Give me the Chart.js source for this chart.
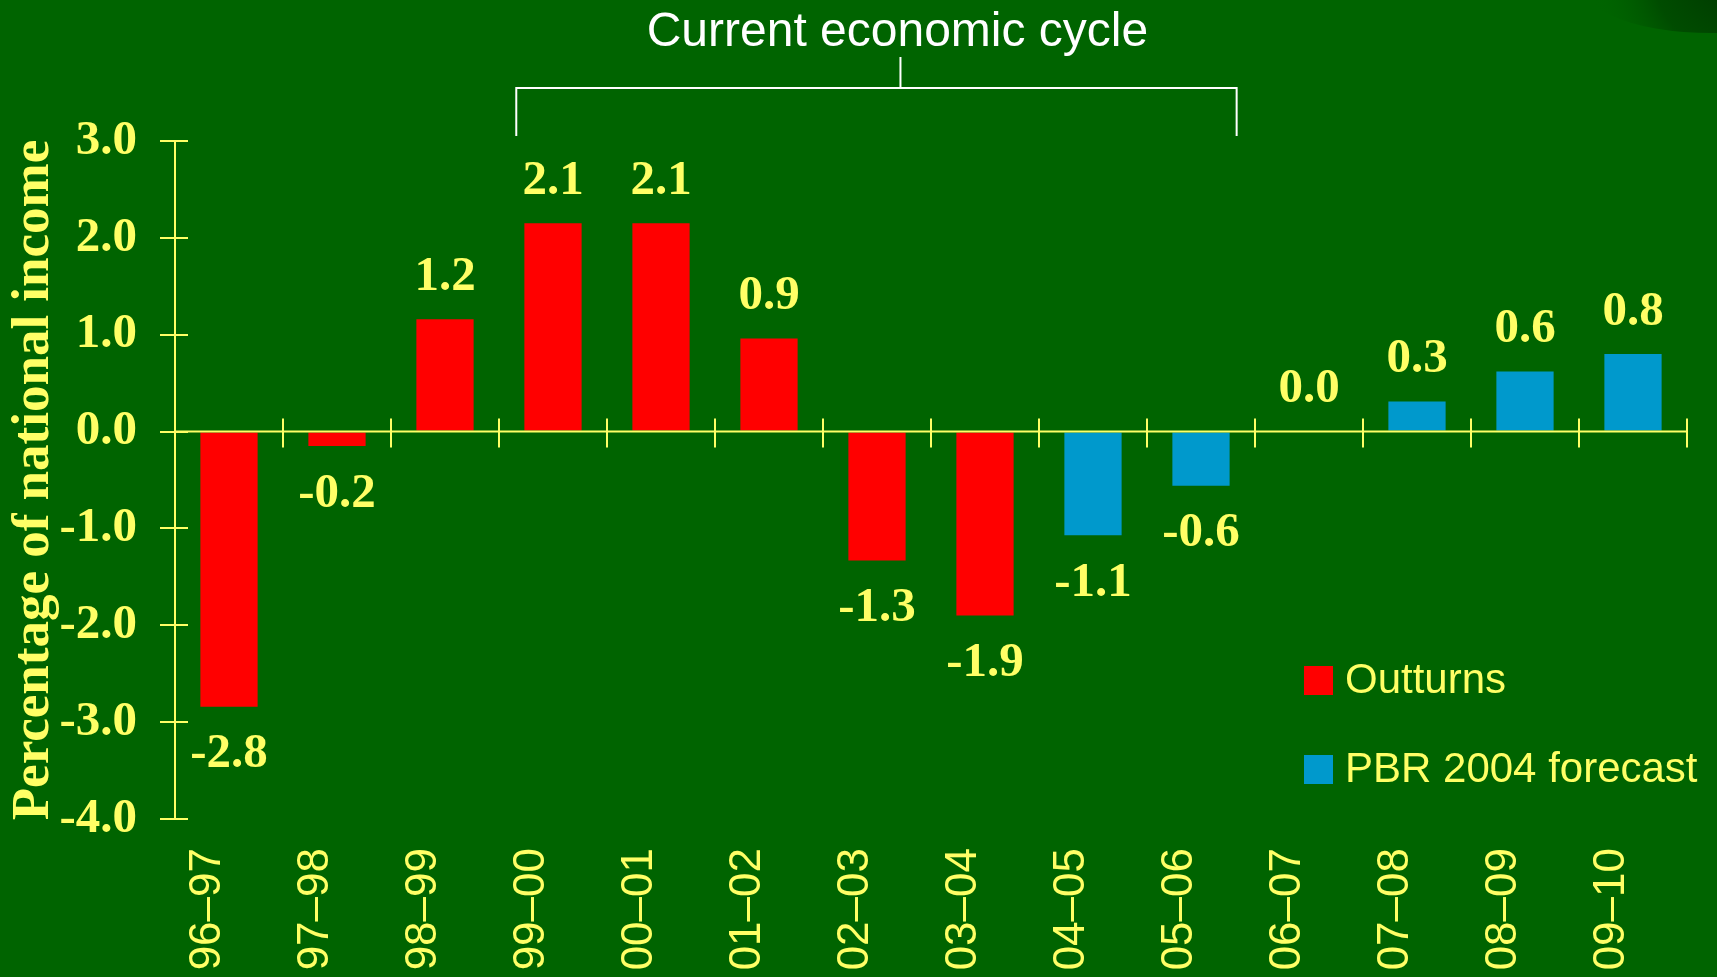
<!DOCTYPE html>
<html>
<head>
<meta charset="utf-8">
<script src="https://cdn.jsdelivr.net/npm/chart.js@4/dist/chart.umd.min.js"></script>
<style>
  html, body { margin: 0; padding: 0; overflow: hidden; background: #006400; }
  canvas { display: block; }
</style>
</head>
<body>
<canvas id="cycleChart" width="1717" height="977"></canvas>
<script>
// chart values
const categories = ['96–97', '97–98', '98–99', '99–00', '00–01', '01–02', '02–03',
  '03–04', '04–05', '05–06', '06–07', '07–08', '08–09', '09–10'];
const outturns = [-2.84, -0.15, 1.16, 2.15, 2.15, 0.96, -1.33, -1.9,
  null, null, null, null, null, null];
const forecast = [null, null, null, null, null, null, null, null,
  -1.07, -0.56, 0, 0.31, 0.62, 0.8];
const valueLabels = ['-2.8', '-0.2', '1.2', '2.1', '2.1', '0.9', '-1.3', '-1.9',
  '-1.1', '-0.6', '0.0', '0.3', '0.6', '0.8'];
const yTicks = [-4, -3, -2, -1, 0, 1, 2, 3];
const cycleFrom = '99–00';
const cycleTo = '05–06';
const cycleTitle = 'Current economic cycle';

const YELLOW = '#FFFF66';
const RED = '#FF0000';
const BLUE = '#0099CC';

const backgroundPlugin = {
  id: 'background',
  beforeDraw(chart) {
    const ctx = chart.ctx;
    ctx.save();
    ctx.fillStyle = '#006400';
    ctx.fillRect(0, 0, chart.width, chart.height);
    // dark smudge in the top right corner
    const g = ctx.createRadialGradient(1740, -30, 10, 1740, -30, 150);
    g.addColorStop(0, 'rgba(0,50,0,0.9)');
    g.addColorStop(0.55, 'rgba(0,60,0,0.6)');
    g.addColorStop(1, 'rgba(0,100,0,0)');
    ctx.fillStyle = g;
    ctx.beginPath();
    ctx.ellipse(1740, -30, 160, 62, -0.08, 0, Math.PI * 2);
    ctx.fill();
    ctx.restore();
  }
};

const axesPlugin = {
  id: 'axesExtra',
  afterDatasetsDraw(chart) {
    const { ctx, chartArea, scales: { x, y } } = chart;
    const y0 = y.getPixelForValue(0);
    ctx.save();
    ctx.strokeStyle = YELLOW;
    ctx.lineWidth = 2;
    ctx.beginPath();
    ctx.moveTo(chartArea.left, y0);
    ctx.lineTo(chartArea.right, y0);
    for (let i = 1; i <= categories.length; i++) {
      const px = Math.round(x.getPixelForValue(i - 0.5));
      ctx.moveTo(px, y0 - 13);
      ctx.lineTo(px, y0 + 16);
    }
    yTicks.forEach(v => {
      const py = Math.round(y.getPixelForValue(v));
      ctx.moveTo(chartArea.left, py);
      ctx.lineTo(chartArea.left + 13, py);
    });
    ctx.stroke();

    // value labels
    ctx.fillStyle = YELLOW;
    ctx.font = 'bold 49px "Liberation Serif", "Times New Roman", serif';
    ctx.textAlign = 'center';
    ctx.textBaseline = 'middle';
    chart.data.datasets.forEach((ds, di) => {
      const meta = chart.getDatasetMeta(di);
      meta.data.forEach((el, i) => {
        const v = ds.data[i];
        if (v === null || v === undefined) return;
        const ty = v >= 0 ? el.y - 42 : el.y + 48;
        ctx.fillText(valueLabels[i], el.x, ty);
      });
    });
    ctx.restore();
  },
  afterDraw(chart) {
    const { ctx, chartArea, scales: { x } } = chart;
    const i0 = categories.indexOf(cycleFrom);
    const i1 = categories.indexOf(cycleTo);
    const xl = x.getPixelForValue(i0 - 0.34);
    const xr = x.getPixelForValue(i1 + 0.33);
    const xm = (xl + xr) / 2 + 24;
    const top = chartArea.top;
    ctx.save();
    ctx.strokeStyle = '#FFFFFF';
    ctx.lineWidth = 2;
    ctx.beginPath();
    ctx.moveTo(xl, top - 5);
    ctx.lineTo(xl, top - 53);
    ctx.lineTo(xr, top - 53);
    ctx.lineTo(xr, top - 5);
    ctx.moveTo(xm, top - 53);
    ctx.lineTo(xm, top - 84);
    ctx.stroke();
    ctx.fillStyle = '#FFFFFF';
    ctx.font = '48px "Liberation Sans", Arial, sans-serif';
    ctx.textAlign = 'center';
    ctx.textBaseline = 'middle';
    ctx.fillText(cycleTitle, xm - 3, top - 108);

    // legend
    const lx = chartArea.right - 383;
    let ly = chartArea.bottom - 153;
    ctx.font = '42px "Liberation Sans", Arial, sans-serif';
    ctx.textAlign = 'left';
    chart.data.datasets.forEach(ds => {
      ctx.fillStyle = ds.backgroundColor;
      ctx.fillRect(lx, ly, 29, 29);
      ctx.fillStyle = YELLOW;
      ctx.fillText(ds.label, lx + 41, ly + 15);
      ly += 89;
    });
    ctx.restore();
  }
};

const chart = new Chart(document.getElementById('cycleChart').getContext('2d'), {
  type: 'bar',
  data: {
    labels: categories,
    datasets: [{
      label: 'Outturns',
      data: outturns,
      backgroundColor: RED,
    },
    {
      label: 'PBR 2004 forecast',
      data: forecast,
      backgroundColor: BLUE,
    }],
  },
  options: {
    animation: false,
    responsive: false,
    grouped: false,
    barPercentage: 0.53,
    categoryPercentage: 1,
    layout: {
      padding: { top: 141, right: 30, left: 0, bottom: 0 },
    },
    plugins: {
      legend: { display: false },
      tooltip: { enabled: false },
    },
    scales: {
      x: {
        grid: { display: false, drawTicks: false },
        border: { display: false },
        ticks: {
          autoSkip: false,
          maxRotation: 90,
          minRotation: 90,
          labelOffset: -21,
          padding: 29,
          color: YELLOW,
          font: { family: '"Liberation Sans", Arial, sans-serif', size: 44 },
        },
        afterFit(scale) { scale.height = 158; },
      },
      y: {
        min: -4,
        max: 3,
        afterBuildTicks(scale) { scale.ticks = yTicks.map(v => ({ value: v })); },
        grid: {
          drawOnChartArea: false,
          drawTicks: true,
          tickLength: 15,
          color: YELLOW,
          lineWidth: 2,
        },
        border: { display: true, color: YELLOW, width: 2 },
        ticks: {
          padding: 23,
          color: YELLOW,
          font: { family: '"Liberation Serif", "Times New Roman", serif', size: 49, weight: 'bold' },
          callback: (v) => Number(v).toFixed(1),
        },
        title: {
          display: true,
          text: 'Percentage of national income',
          color: YELLOW,
          padding: { top: 3, bottom: 0 },
          font: { family: '"Liberation Serif", "Times New Roman", serif', size: 53, weight: 'bold' },
        },
        afterFit(scale) { scale.width = 175; },
      },
    },
  },
  plugins: [backgroundPlugin, axesPlugin],
});
</script>
</body>
</html>
